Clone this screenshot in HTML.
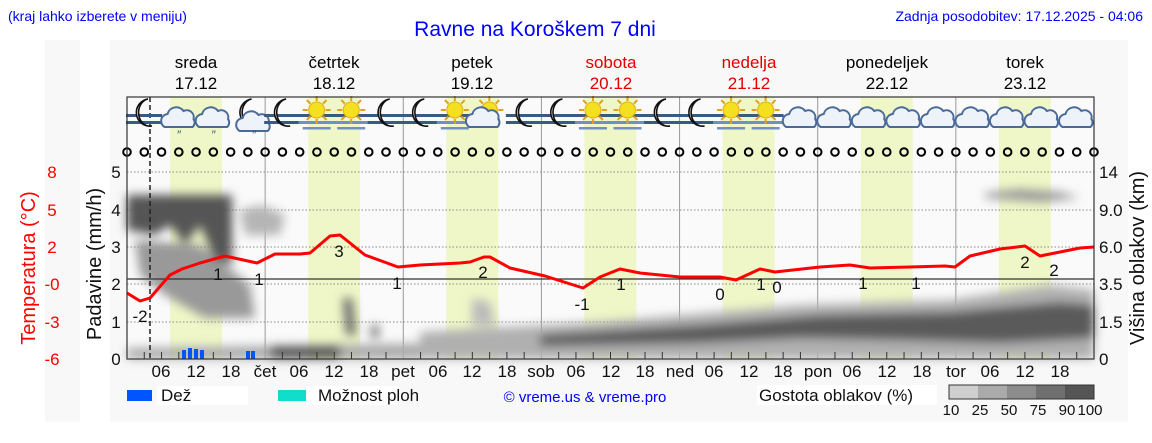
<!DOCTYPE html>
<html><head><meta charset="utf-8"><style>
body{margin:0;background:#fff;}
svg{display:block;font-family:"Liberation Sans","DejaVu Sans",sans-serif;}
</style></head><body>
<svg id="s" width="1152" height="443" xmlns="http://www.w3.org/2000/svg">
<defs>
<filter id="bl" x="-20%" y="-20%" width="140%" height="140%"><feGaussianBlur stdDeviation="5"/></filter>
</defs>
<rect x="45" y="40" width="35" height="382" fill="#f8f8f8"/>
<rect x="110" y="40" width="1018" height="382" fill="#f8f8f8"/>
<text x="8" y="21" font-size="14" fill="#0000ff">(kraj lahko izberete v meniju)</text>
<text x="535" y="36" font-size="21" fill="#0000ff" text-anchor="middle">Ravne na Koroškem 7 dni</text>
<text x="1143" y="21" font-size="14" fill="#0000ff" text-anchor="end">Zadnja posodobitev: 17.12.2025 - 04:06</text>
<g font-size="17" text-anchor="middle">
<text x="196" y="68">sreda</text><text x="196" y="89">17.12</text>
<text x="334" y="68">četrtek</text><text x="334" y="89">18.12</text>
<text x="472" y="68">petek</text><text x="472" y="89">19.12</text>
<text x="611" y="68" fill="#e00000">sobota</text><text x="611" y="89" fill="#e00000">20.12</text>
<text x="749" y="68" fill="#e00000">nedelja</text><text x="749" y="89" fill="#e00000">21.12</text>
<text x="887" y="68">ponedeljek</text><text x="887" y="89">22.12</text>
<text x="1025" y="68">torek</text><text x="1025" y="89">23.12</text>
</g>
<rect x="127" y="97" width="967" height="262" fill="#fafafa"/>
<g id="bands" fill="#eff7c8"></g>
<g id="grid" stroke="#888" stroke-dasharray="1.5,2" stroke-width="1"></g>
<g id="clouds" filter="url(#bl)">
<path d="M135,240 L200,245 L250,285 L255,318 L205,318 L165,295 L140,275Z" fill="#999"/>
<path d="M127,195 L232,195 L232,265 L215,260 L200,225 L185,245 L170,225 L155,235 L127,230Z" fill="#555"/>
<path d="M240,210 L262,205 L285,215 L280,235 L245,235Z" fill="#b5b5b5"/>
<path d="M127,348 L450,343 L450,359 L127,359Z" fill="#aaa"/>
<path d="M270,346 L340,346 L340,359 L270,359Z" fill="#555"/>
<path d="M343,298 L352,298 L356,335 L346,335Z" fill="#666"/>
<path d="M371,325 L379,325 L379,338 L371,338Z" fill="#777"/>
<path d="M472,298 L490,302 L495,325 L472,325Z" fill="#bbb"/>
<path d="M420,332 L600,322 L800,305 L950,300 L1050,285 L1094,290 L1094,359 L420,359Z" fill="#b0b0b0"/>
<path d="M540,335 L700,325 L820,315 L950,312 L1060,302 L1094,305 L1094,338 L1000,343 L900,340 L800,338 L700,343 L540,346Z" fill="#5a5a5a"/>
<path d="M985,193 L1020,189 L1060,192 L1080,198 L1040,202 L985,198Z" fill="#999"/>
</g>
<g id="ticks" stroke="#333"></g>
<line x1="127" y1="279" x2="1094" y2="279" stroke="#333" stroke-width="1.2"/>
<line x1="150" y1="97" x2="150" y2="359" stroke="#222" stroke-width="1.5" stroke-dasharray="5,3"/>
<g fill="#0055ff"><rect x="182" y="350" width="4" height="9"/><rect x="188" y="348" width="4" height="11"/><rect x="194" y="349" width="4" height="10"/><rect x="200" y="350" width="4" height="9"/><rect x="246" y="351" width="4" height="8"/><rect x="251" y="351" width="4" height="8"/></g>
<polyline fill="none" stroke="#ff0000" stroke-width="3" stroke-linejoin="round" points="127,293 140,301 150,298 170,275 182,269 200,263 225,256 257,263 275,254 300,254 310,253 330,236 340,235 365,255 398,267 420,265 440,264 460,263 470,262 484,257 490,257 510,268 545,276 583,288 600,277 620,269 640,273 680,277 720,277 736,280 760,269 775,272 820,267 850,265 870,268 910,267 945,266 955,267 970,256 1000,249 1025,246 1040,256 1060,252 1080,248 1094,247"/>
<g font-size="17" text-anchor="middle" fill="#111">
<text x="140" y="322">-2</text><text x="218" y="280">1</text><text x="259" y="285">1</text><text x="339" y="257">3</text><text x="397" y="289">1</text><text x="483" y="278">2</text><text x="582" y="310">-1</text><text x="621" y="290">1</text><text x="720" y="300">0</text><text x="761" y="290">1</text><text x="777" y="293">0</text><text x="863" y="289">1</text><text x="916" y="289">1</text><text x="1025" y="268">2</text><text x="1054" y="276">2</text>
</g>
<g id="icons"></g>
<g id="circ" fill="none" stroke="#000" stroke-width="2"></g>
<rect x="127" y="97" width="967" height="262" fill="none" stroke="#333" stroke-width="1.2"/>
<g font-size="17" text-anchor="middle" fill="#111">
<text x="116" y="178">5</text><text x="116" y="216">4</text><text x="116" y="253">3</text><text x="116" y="290">2</text><text x="116" y="328">1</text><text x="116" y="365">0</text>
</g>
<g font-size="17" fill="#111">
<text x="1099" y="178">14</text><text x="1099" y="216">9.0</text><text x="1099" y="253">6.0</text><text x="1099" y="290">3.5</text><text x="1099" y="328">1.5</text><text x="1099" y="365">0</text>
</g>
<g font-size="17" text-anchor="middle" fill="#ff0000">
<text x="52" y="178">8</text><text x="52" y="216">5</text><text x="52" y="253">2</text><text x="52" y="290">-0</text><text x="52" y="328">-3</text><text x="52" y="365">-6</text>
</g>
<text transform="translate(35,268) rotate(-90)" font-size="20" fill="#ff0000" text-anchor="middle">Temperatura (°C)</text>
<text transform="translate(101,264) rotate(-90)" font-size="20" fill="#111" text-anchor="middle">Padavine (mm/h)</text>
<text transform="translate(1144,258) rotate(-90)" font-size="20" fill="#111" text-anchor="middle">Višina oblakov (km)</text>
<g id="tl" font-size="17" text-anchor="middle" fill="#111">
<text x="161" y="377">06</text><text x="196" y="377">12</text><text x="231" y="377">18</text><text x="265" y="377">čet</text>
<text x="299" y="377">06</text><text x="334" y="377">12</text><text x="369" y="377">18</text><text x="403" y="377">pet</text>
<text x="438" y="377">06</text><text x="472" y="377">12</text><text x="507" y="377">18</text><text x="541" y="377">sob</text>
<text x="576" y="377">06</text><text x="611" y="377">12</text><text x="645" y="377">18</text><text x="680" y="377">ned</text>
<text x="714" y="377">06</text><text x="749" y="377">12</text><text x="783" y="377">18</text><text x="818" y="377">pon</text>
<text x="852" y="377">06</text><text x="887" y="377">12</text><text x="922" y="377">18</text><text x="956" y="377">tor</text>
<text x="990" y="377">06</text><text x="1025" y="377">12</text><text x="1060" y="377">18</text>
</g>
<rect x="127" y="390" width="25" height="11" fill="#0055ff"/>
<rect x="157" y="386" width="91" height="19" fill="#fff"/>
<text x="161" y="401" font-size="17" fill="#111">Dež</text>
<rect x="278" y="390" width="28" height="11" fill="#11ddcc"/>
<rect x="306" y="386" width="92" height="19" fill="#fff"/>
<text x="318" y="401" font-size="17" fill="#111">Možnost ploh</text>
<text x="585" y="402" font-size="15" fill="#0000ff" text-anchor="middle">© vreme.us &amp; vreme.pro</text>
<rect x="757" y="385" width="180" height="20" fill="#fff"/>
<text x="759" y="401" font-size="17" fill="#111">Gostota oblakov (%)</text>
<rect x="949" y="385" width="29" height="14" fill="#cfcfcf"/><rect x="978" y="385" width="29" height="14" fill="#aaa"/><rect x="1007" y="385" width="29" height="14" fill="#8c8c8c"/><rect x="1036" y="385" width="29" height="14" fill="#6f6f6f"/><rect x="1065" y="385" width="29" height="14" fill="#555"/>
<rect x="949" y="385" width="145" height="14" fill="none" stroke="#333"/>
<g font-size="15" fill="#111" text-anchor="middle"><text x="951" y="415">10</text><text x="980" y="415">25</text><text x="1009" y="415">50</text><text x="1038" y="415">75</text><text x="1067" y="415">90</text><text x="1090" y="415">100</text></g>
</svg>
<script>
var NS="http://www.w3.org/2000/svg",D=138.14,H=D/24,X0=127;
function el(p,t,a){var e=document.createElementNS(NS,t);for(var k in a)e.setAttribute(k,a[k]);(typeof p=="string"?document.getElementById(p):p).appendChild(e);return e;}
for(var d=0;d<7;d++){var x=X0+d*D;
 el("bands","rect",{x:x+43,y:97,width:52,height:262});
 if(d>0)el("grid","line",{x1:x,y1:97,x2:x,y2:359,stroke:"#999","stroke-dasharray":"none"});
 for(var h=3;h<24;h+=3)el("ticks","line",{x1:x+h*H,y1:352,x2:x+h*H,y2:359});
}
[172,210,247,284,322].forEach(function(y){el("grid","line",{x1:127,y1:y,x2:1094,y2:y});});
for(var i=0;i<=56;i++)el("circ","circle",{cx:X0+i*3*H,cy:152,r:3.8});
var types="n r r nr n s s n n s sc n n s s n n s s c c c c c c c c c".split(" ");
for(var i=0;i<28;i++){var cx=X0+17+i*D/4;var t=types[i];
 var g=el("icons","g",{});
 if(t=="s"||t=="n"){
  el(g,"rect",{x:cx-18,y:114,width:36,height:3,fill:"#3a5a80"});
  el(g,"rect",{x:cx-18,y:121,width:36,height:3,fill:t=="s"?"#7090c0":"#3a5a80"});
  if(t=="s")el(g,"rect",{x:cx-14,y:127,width:28,height:2.5,fill:"#7090c0"});
 }
 if(t=="s"||t=="sc"){
  for(var a=0;a<8;a++){var an=a*Math.PI/4;el(g,"line",{x1:cx+Math.cos(an)*9,y1:110+Math.sin(an)*9,x2:cx+Math.cos(an)*14,y2:110+Math.sin(an)*14,stroke:"#e0a020","stroke-width":2});}
  el(g,"circle",{cx:cx,cy:110,r:8,fill:"#f5e020",stroke:"#e0b020"});
 }
 if(t=="n"||t=="nr"){el(g,"path",{d:"M"+(cx+4)+",99 A13,13 0 1,0 "+(cx+8)+",126 A10,12 0 0,1 "+(cx+4)+",99Z",fill:"#fff",stroke:"#111","stroke-width":1.6});}
 if(t=="c"||t=="sc"||t=="r"||t=="nr"){var ox=t=="sc"?-6:(t=="nr"?6:0);var oy=t=="nr"?4:0;
  el(g,"path",{d:"M"+(cx-14+ox)+","+(127+oy)+" a7,7 0 0,1 3,-13 a9,9 0 0,1 16,-3 a7,7 0 0,1 10,8 a6,6 0 0,1 -1,8Z",fill:"#eef3fa",stroke:"#4a6a9a","stroke-width":2});
  if(t=="r"||t=="nr"){el(g,"text",{x:cx-2+ox,y:139,"font-size":12,fill:"#3a5a80","font-style":"italic"}).textContent="\u2033";}
 }
}
</script>
</body></html>
